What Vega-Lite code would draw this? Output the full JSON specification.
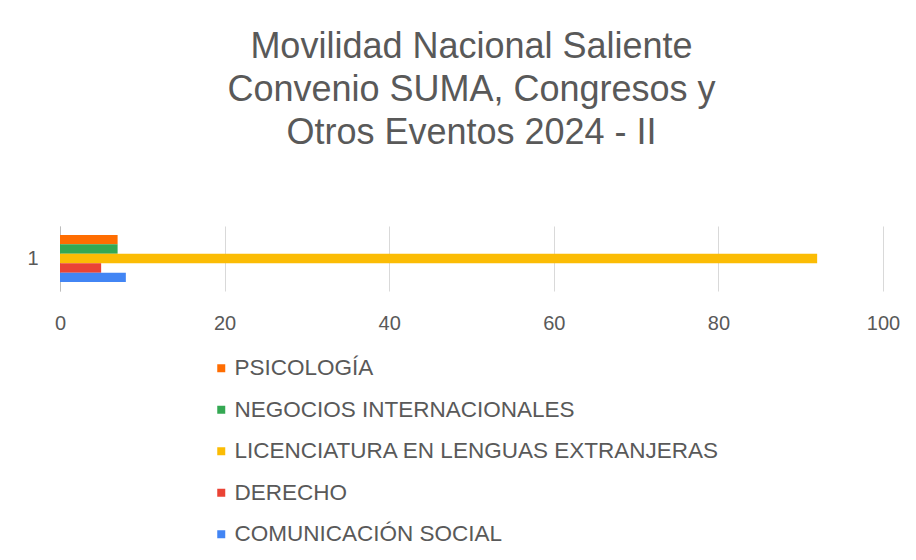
{
  "$schema": "https://vega.github.io/schema/vega-lite/v6.json",
  "width": 823,
  "height": 65,
  "autosize": "none",
  "padding": {"left": 60, "top": 226, "right": 33, "bottom": 269},
  "background": "white",
  "title": {
    "text": ["Movilidad Nacional Saliente", "Convenio SUMA, Congresos y", "Otros Eventos 2024 - II"],
    "fontSize": 36,
    "lineHeight": 43,
    "font": "Liberation Sans",
    "fontWeight": "normal",
    "color": "#595959",
    "anchor": "middle",
    "offset": 74
  },
  "data": {
    "values": [
      {"categoria": "1", "programa": "PSICOLOGÍA", "valor": 7},
      {"categoria": "1", "programa": "NEGOCIOS INTERNACIONALES", "valor": 7},
      {"categoria": "1", "programa": "LICENCIATURA EN LENGUAS EXTRANJERAS", "valor": 92},
      {"categoria": "1", "programa": "DERECHO", "valor": 5},
      {"categoria": "1", "programa": "COMUNICACIÓN SOCIAL", "valor": 8}
    ]
  },
  "mark": {"type": "bar"},
  "encoding": {
    "y": {
      "field": "categoria",
      "type": "nominal",
      "title": null,
      "scale": {"paddingOuter": 0.19, "paddingInner": 0},
      "axis": {
        "ticks": false,
        "domainColor": "#bdbdbd",
        "labelFontSize": 20,
        "labelFont": "Liberation Sans",
        "labelColor": "#595959",
        "labelPadding": 22,
        "labelAngle": 0
      }
    },
    "yOffset": {
      "field": "programa",
      "type": "nominal",
      "sort": ["PSICOLOGÍA", "NEGOCIOS INTERNACIONALES", "LICENCIATURA EN LENGUAS EXTRANJERAS", "DERECHO", "COMUNICACIÓN SOCIAL"],
      "scale": {"paddingInner": 0, "paddingOuter": 0}
    },
    "x": {
      "field": "valor",
      "type": "quantitative",
      "title": null,
      "scale": {"domain": [0, 100]},
      "axis": {
        "values": [0, 20, 40, 60, 80, 100],
        "ticks": false,
        "domain": false,
        "grid": true,
        "gridColor": "#d9d9d9",
        "labelFlush": false,
        "labelFontSize": 20,
        "labelFont": "Liberation Sans",
        "labelColor": "#595959",
        "labelPadding": 22
      }
    },
    "color": {
      "field": "programa",
      "type": "nominal",
      "title": null,
      "scale": {
        "domain": ["PSICOLOGÍA", "NEGOCIOS INTERNACIONALES", "LICENCIATURA EN LENGUAS EXTRANJERAS", "DERECHO", "COMUNICACIÓN SOCIAL"],
        "range": ["#ff6d01", "#34a853", "#fbbc04", "#ea4335", "#4285f4"]
      },
      "legend": {
        "orient": "none",
        "legendX": 150,
        "legendY": 131,
        "direction": "vertical",
        "symbolType": "square",
        "symbolSize": 64,
        "symbolStrokeWidth": 0,
        "labelFontSize": 22.5,
        "labelFont": "Liberation Sans",
        "labelColor": "#595959",
        "labelOffset": 2,
        "rowPadding": 18.5,
        "labelLimit": 700
      }
    }
  },
  "config": {
    "view": {"stroke": null}
  }
}
